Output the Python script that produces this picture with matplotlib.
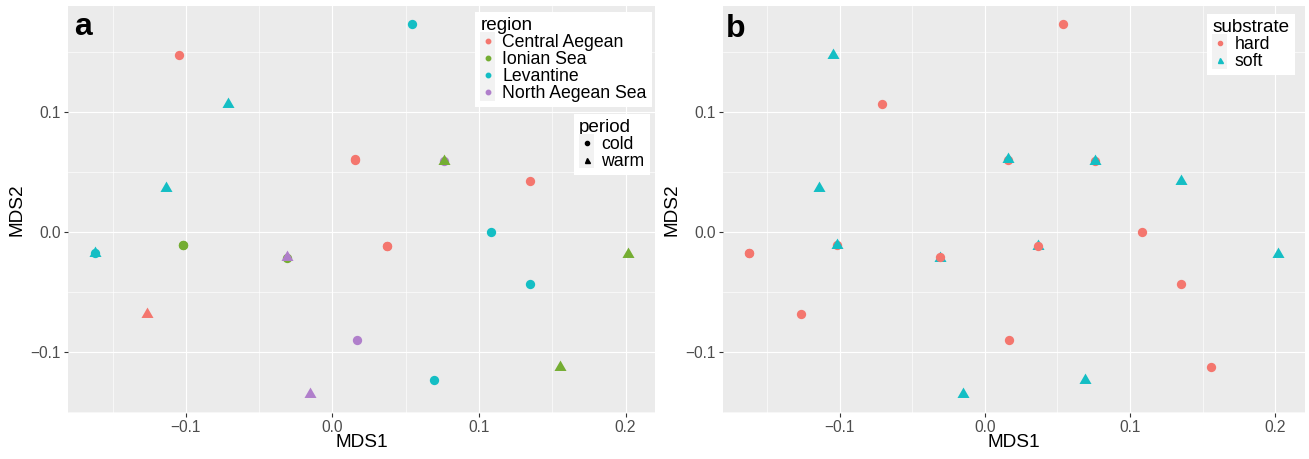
"""MDS ordination of sites, coloured by region/period (a) and substrate (b)."""
import matplotlib
matplotlib.use('Agg')
import matplotlib.pyplot as plt
import numpy as np
from matplotlib.legend_handler import HandlerBase
from matplotlib.lines import Line2D
from matplotlib.patches import Rectangle

plt.rcParams['font.family'] = ['Liberation Sans', 'DejaVu Sans']

# MDS scores, one entry per sample (drawing order matters for overlaps)
mds1 = [-0.1044, 0.0541, -0.0710, 0.0157, 0.0157, 0.0761, 0.0761, -0.1139,
        0.1347, -0.1020, -0.1020, -0.1623, -0.1623, -0.0312, -0.0312, 0.0369,
        0.0369, 0.1082, 0.2019, 0.1349, -0.1267, 0.0169, 0.0692, -0.0150,
        0.1556]
mds2 = [0.1480, 0.1734, 0.1065, 0.0600, 0.0607, 0.0590, 0.0594, 0.0368,
        0.0422, -0.0112, -0.0109, -0.0175, -0.0175, -0.0218, -0.0206, -0.0114,
        -0.0114, 0.0003, -0.0181, -0.0432, -0.0686, -0.0898, -0.1233, -0.1356,
        -0.1124]
region = ['Central Aegean', 'Levantine', 'Levantine', 'Central Aegean',
          'Central Aegean', 'North Aegean Sea', 'Ionian Sea', 'Levantine',
          'Central Aegean', 'Ionian Sea', 'Ionian Sea', 'Levantine',
          'Levantine', 'Ionian Sea', 'North Aegean Sea', 'Central Aegean',
          'Central Aegean', 'Levantine', 'Ionian Sea', 'Levantine',
          'Central Aegean', 'North Aegean Sea', 'Levantine',
          'North Aegean Sea', 'Ionian Sea']
period = ['cold', 'cold', 'warm', 'cold', 'cold', 'cold', 'warm', 'warm',
          'cold', 'cold', 'cold', 'cold', 'warm', 'cold', 'warm', 'cold',
          'cold', 'cold', 'warm', 'cold', 'warm', 'cold', 'cold', 'warm',
          'warm']
substrate = ['soft', 'hard', 'hard', 'hard', 'soft', 'hard', 'soft', 'soft',
             'soft', 'hard', 'soft', 'hard', 'hard', 'soft', 'hard', 'soft',
             'hard', 'hard', 'soft', 'hard', 'hard', 'hard', 'soft', 'soft',
             'hard']

region_levels = ['Central Aegean', 'Ionian Sea', 'Levantine', 'North Aegean Sea']
region_colors = ['#F4766E', '#74AD32', '#14BEC4', '#B07FCB']
period_levels = ['cold', 'warm']
substrate_levels = ['hard', 'soft']
substrate_colors = ['#F4766E', '#14BEC4']

# R-like equilateral triangle (pch 17) and circle (pch 19)
TRI = [(0, 1), (-0.866, -0.5), (0.866, -0.5)]
shape_for = {'cold': 'o', 'warm': TRI, 'hard': 'o', 'soft': TRI}
size_for = {'o': 45, 'tri': 100}

GREY_BG = '#EBEBEB'
TICK_COL = '#4D4D4D'


class KeyHandler(HandlerBase):
    """ggplot-like legend key: light grey square with a small point."""

    def create_artists(self, legend, orig_handle, xdescent, ydescent,
                       width, height, fontsize, trans):
        cx = -xdescent + width / 2
        cy = -ydescent + height / 2
        side = 12.6
        bg = Rectangle((cx - width / 2, cy - side / 2), width, side,
                       facecolor='#F2F2F2', edgecolor='none', transform=trans)
        mk = Line2D([cx], [cy], marker=orig_handle.get_marker(),
                    color=orig_handle.get_color(),
                    markersize=orig_handle.get_markersize(),
                    linestyle='none', transform=trans)
        return [bg, mk]


def style_axes(ax, x, y):
    ax.set_facecolor(GREY_BG)
    # ggplot default expansion of 5% on each side
    xr = max(x) - min(x)
    yr = max(y) - min(y)
    ax.set_xlim(min(x) - 0.05 * xr, max(x) + 0.05 * xr)
    ax.set_ylim(min(y) - 0.05 * yr, max(y) + 0.05 * yr)
    ax.set_xticks([-0.1, 0.0, 0.1, 0.2])
    ax.set_yticks([-0.1, 0.0, 0.1])
    ax.set_xticks([-0.15, -0.05, 0.05, 0.15], minor=True)
    ax.set_yticks([-0.15, -0.05, 0.05, 0.15], minor=True)
    ax.set_xticklabels(['\u22120.1', '0.0', '0.1', '0.2'])
    ax.set_yticklabels(['\u22120.1', '0.0', '0.1'])
    ax.grid(True, which='major', color='white', linewidth=0.85)
    ax.grid(True, which='minor', color='white', linewidth=0.45)
    ax.set_axisbelow(True)
    for s in ax.spines.values():
        s.set_visible(False)
    ax.tick_params(which='major', length=3, width=0.8, color='#333333',
                   labelcolor=TICK_COL, labelsize=11.2, pad=2)
    ax.tick_params(which='minor', length=0)
    ax.set_xlabel('MDS1', fontsize=13.7)
    ax.set_ylabel('MDS2', fontsize=13.7)
    ax.xaxis.set_label_coords(0.5, -0.052)


def point_scatter(ax, xs, ys, color, shape):
    s = size_for['o'] if shape == 'o' else size_for['tri']
    ax.scatter(xs, ys, c=color, marker=shape, s=s, linewidths=0, zorder=3)


def make_legend(ax, title, labels, colors, markers, sizes, anchor):
    handles = [Line2D([], [], marker=m, color=c, markersize=ms, linestyle='none')
               for c, m, ms in zip(colors, markers, sizes)]
    leg = ax.legend(handles, labels, title=title, loc='upper right',
                    bbox_to_anchor=anchor, fontsize=12.7, title_fontsize=13.6,
                    frameon=True, fancybox=False, framealpha=1,
                    facecolor='white', edgecolor='none', borderpad=0.3,
                    labelspacing=0.0, handlelength=0.85, handletextpad=0.4,
                    borderaxespad=0, alignment='left',
                    handler_map={Line2D: KeyHandler()})
    return leg


fig = plt.figure(figsize=(13.09, 4.59), dpi=100)
ax_a = fig.add_axes([0.0519, 0.1002, 0.4485, 0.8874])
ax_b = fig.add_axes([0.5521, 0.1002, 0.4445, 0.8874])

x = np.array(mds1)
y = np.array(mds2)

# panel a: colour = region, shape = period (in data order so overlaps match)
for i in range(len(x)):
    col = region_colors[region_levels.index(region[i])]
    point_scatter(ax_a, [x[i]], [y[i]], col, shape_for[period[i]])
style_axes(ax_a, x, y)
ax_a.yaxis.set_label_coords(-0.073, 0.5)

leg1 = make_legend(ax_a, 'region', region_levels, region_colors,
                   ['o'] * 4, [3.2] * 4, (0.995, 0.985))
ax_a.add_artist(leg1)
make_legend(ax_a, 'period', period_levels, ['black', 'black'],
            ['o', '^'], [3.0, 3.6], (0.991, 0.735))

# panel b: colour and shape = substrate
for i in range(len(x)):
    k = substrate_levels.index(substrate[i])
    point_scatter(ax_b, [x[i]], [y[i]], substrate_colors[k],
                  shape_for[substrate[i]])
style_axes(ax_b, x, y)
ax_b.yaxis.set_label_coords(-0.073, 0.5)
make_legend(ax_b, 'substrate', substrate_levels, substrate_colors,
            ['o', '^'], [3.0, 3.6], (0.983, 0.98))

ax_a.text(0.011, 0.928, 'a', transform=ax_a.transAxes, fontsize=23,
          fontweight='bold', va='baseline', ha='left')
ax_b.text(0.006, 0.924, 'b', transform=ax_b.transAxes, fontsize=23,
          fontweight='bold', va='baseline', ha='left')

fig.savefig('out.png', dpi=100)
